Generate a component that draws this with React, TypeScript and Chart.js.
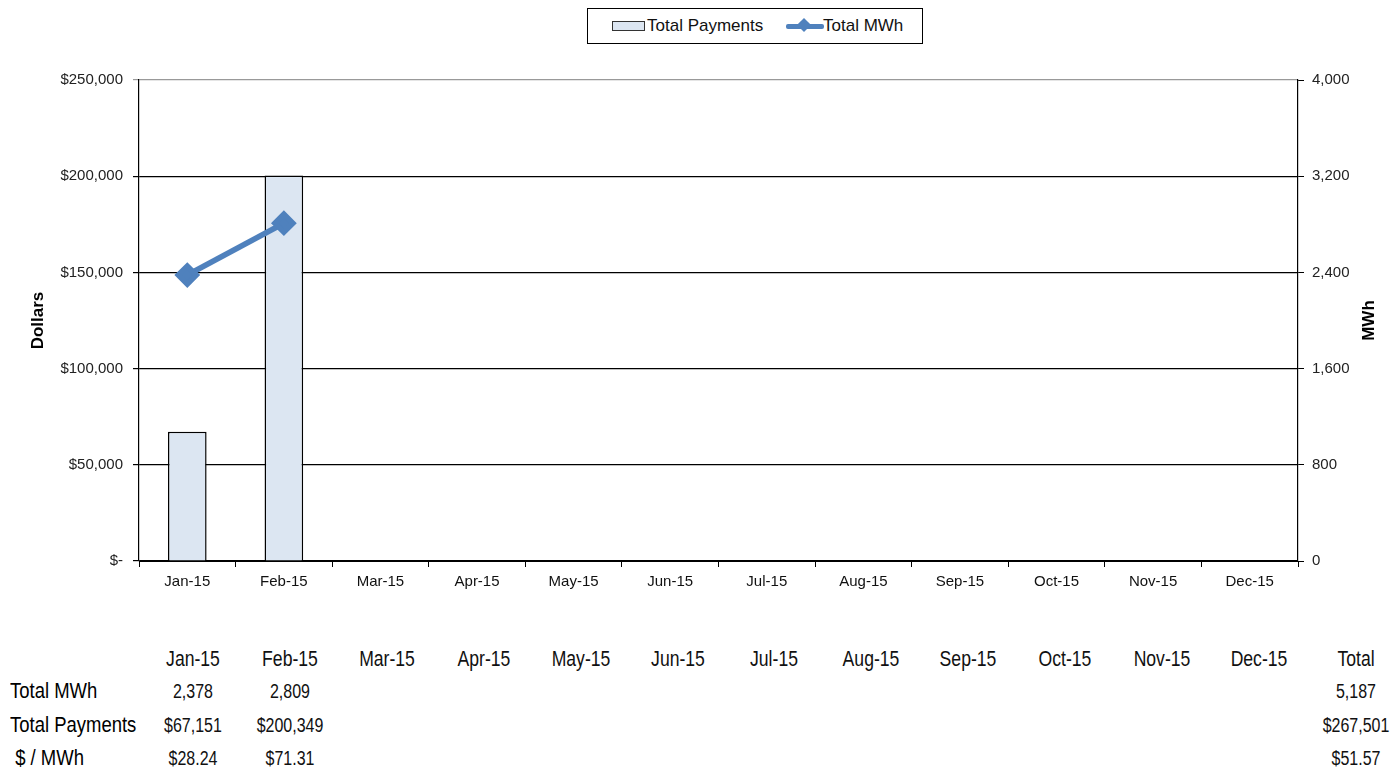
import React, { useEffect, useRef } from "react";
import { Chart, registerables } from "chart.js";

Chart.register(...registerables);

const months = ["Jan-15", "Feb-15", "Mar-15", "Apr-15", "May-15", "Jun-15", "Jul-15", "Aug-15", "Sep-15", "Oct-15", "Nov-15", "Dec-15"];
const totalPayments: (number | null)[] = [67151, 200349, null, null, null, null, null, null, null, null, null, null];
const totalMWh: (number | null)[] = [2378, 2809, null, null, null, null, null, null, null, null, null, null];
const tableMWh = ["2,378", "2,809", "", "", "", "", "", "", "", "", "", ""];
const tablePayments = ["$67,151", "$200,349", "", "", "", "", "", "", "", "", "", ""];
const tablePerMWh = ["$28.24", "$71.31", "", "", "", "", "", "", "", "", "", ""];
const totalColumn = ["5,187", "$267,501", "$51.57"];
const rowLabels = ["Total MWh", "Total Payments", " $ / MWh"];
const dollarTicks = [0, 50000, 100000, 150000, 200000, 250000];
const mwhTicks = [0, 800, 1600, 2400, 3200, 4000];

const SANS = '"Liberation Sans", Arial, sans-serif';
const BAR_FILL = "#DCE6F2";
const LINE_COLOR = "#4F81BD";

export default function App() {
  const ref = useRef<HTMLCanvasElement | null>(null);

  useEffect(() => {
    document.body.style.margin = "0";
    const ctx = ref.current!.getContext("2d")!;
    const rightTitle = {
      id: "rightTitle",
      afterDraw(chart: any) {
        const c = chart.ctx;
        const s = chart.scales.y2;
        c.save();
        c.translate(1369, (s.top + s.bottom) / 2);
        c.rotate(-Math.PI / 2);
        c.font = `bold 17px ${SANS}`;
        c.fillStyle = "#000";
        c.textAlign = "center";
        c.textBaseline = "middle";
        c.fillText("MWh", 0, 0);
        c.restore();
      },
    };
    const chart = new Chart(ctx, {
      type: "bar",
      data: {
        labels: months,
        datasets: [
          {
            type: "line",
            label: "Total MWh",
            data: totalMWh,
            yAxisID: "y2",
            borderColor: LINE_COLOR,
            backgroundColor: LINE_COLOR,
            borderWidth: 5.5,
            pointStyle: "rectRot",
            pointRadius: 9,
            pointBackgroundColor: LINE_COLOR,
            pointBorderColor: LINE_COLOR,
            spanGaps: false,
            order: 0,
          } as any,
          {
            type: "bar",
            label: "Total Payments",
            data: totalPayments,
            yAxisID: "y",
            backgroundColor: BAR_FILL,
            borderColor: "#000",
            borderWidth: 1.5,
            barPercentage: 0.4,
            categoryPercentage: 1,
            order: 1,
          } as any,
        ],
      },
      options: {
        animation: false,
        responsive: false,
        maintainAspectRatio: false,
        layout: { padding: { top: 80, left: 28, right: 0, bottom: 0 } },
        plugins: { legend: { display: false }, tooltip: { enabled: false } },
        scales: {
          x: {
            offset: true,
            grid: { display: true, drawOnChartArea: false, drawTicks: true, tickLength: 6, color: "#000", offset: true },
            border: { display: true, color: "#000", width: 1 },
            ticks: { color: "#111", font: { family: SANS, size: 15 }, padding: 6, maxRotation: 0 },
          },
          y: {
            position: "left",
            min: 0,
            max: 250000,
            afterBuildTicks: (s: any) => { s.ticks = dollarTicks.map((v) => ({ value: v })); },
            grid: {
              color: (c: any) => (c.tick && c.tick.value === 250000 ? "#999" : "#000"),
              lineWidth: 1.2,
              tickLength: 6,
            },
            border: { display: true, color: "#000", width: 1.2 },
            ticks: {
              color: "#222",
              font: { family: SANS, size: 15 },
              padding: 10,
              callback: (v: any) => (Number(v) === 0 ? "$-" : "$" + Number(v).toLocaleString("en-US")),
            },
            title: { display: true, text: "Dollars", color: "#000", font: { family: SANS, size: 17, weight: "bold" }, padding: { top: 0, bottom: 0 } },
            afterFit: (s: any) => { s.width = 111; },
          },
          y2: {
            position: "right",
            min: 0,
            max: 4000,
            afterBuildTicks: (s: any) => { s.ticks = mwhTicks.map((v) => ({ value: v })); },
            grid: { drawOnChartArea: false, drawTicks: true, tickLength: 6, color: "#000" },
            border: { display: true, color: "#000", width: 1.2 },
            ticks: {
              color: "#222",
              font: { family: SANS, size: 15 },
              padding: 8,
              callback: (v: any) => Number(v).toLocaleString("en-US"),
            },
            afterFit: (s: any) => { s.width = 98; },
          },
        },
      },
      plugins: [rightTitle],
    });
    return () => chart.destroy();
  }, []);

  const colX = (i: number) => 193 + i * 96.9;
  const totalX = 1356;
  const rowsY = [691, 725, 758];
  const rowsData = [tableMWh, tablePayments, tablePerMWh];

  const cell = (text: string, x: number, y: number, size: number, key: string) => (
    <div
      key={key}
      style={{
        position: "absolute",
        left: x - 60,
        width: 120,
        top: y - size * 0.6,
        textAlign: "center",
        fontFamily: SANS,
        fontSize: size,
        lineHeight: `${size * 1.2}px`,
        color: "#111",
        whiteSpace: "pre",
        transform: "scaleX(0.8)",
        transformOrigin: "center",
      }}
    >
      {text}
    </div>
  );

  return (
    <div style={{ position: "relative", width: 1396, height: 772, background: "#fff", overflow: "hidden" }}>
      <canvas ref={ref} width={1396} height={597} style={{ position: "absolute", left: 0, top: 0 }} />
      <div
        style={{
          position: "absolute",
          left: 587,
          top: 8,
          width: 336,
          height: 36,
          boxSizing: "border-box",
          border: "1.5px solid #000",
          background: "#fff",
          fontFamily: SANS,
          fontSize: 17,
          color: "#111",
        }}
      >
        <div style={{ position: "absolute", left: 24, top: 12, width: 33, height: 10, boxSizing: "border-box", background: BAR_FILL, border: "1.5px solid #333" }} />
        <div style={{ position: "absolute", left: 59, top: 5, lineHeight: "24px" }}>Total Payments</div>
        <div style={{ position: "absolute", left: 198, top: 15, width: 38, height: 5, background: LINE_COLOR, borderRadius: 2 }} />
        <div style={{ position: "absolute", left: 211, top: 11, width: 10, height: 10, background: LINE_COLOR, transform: "rotate(45deg)" }} />
        <div style={{ position: "absolute", left: 235, top: 5, lineHeight: "24px" }}>Total MWh</div>
      </div>
      {months.map((m, i) => cell(m, colX(i), 659, 22, "h" + i))}
      {cell("Total", totalX, 659, 22, "ht")}
      {rowLabels.map((l, r) => (
        <div
          key={"l" + r}
          style={{
            position: "absolute",
            left: 10,
            top: rowsY[r] - 12,
            fontFamily: SANS,
            fontSize: 22,
            lineHeight: "24px",
            color: "#000",
            whiteSpace: "pre",
            transform: "scaleX(0.84)",
            transformOrigin: "left center",
          }}
        >
          {l}
        </div>
      ))}
      {rowsData.map((row, r) => row.map((v, i) => (v ? cell(v, colX(i), rowsY[r], 20, `c${r}-${i}`) : null)))}
      {totalColumn.map((v, r) => cell(v, totalX, rowsY[r], 20, "t" + r))}
    </div>
  );
}
